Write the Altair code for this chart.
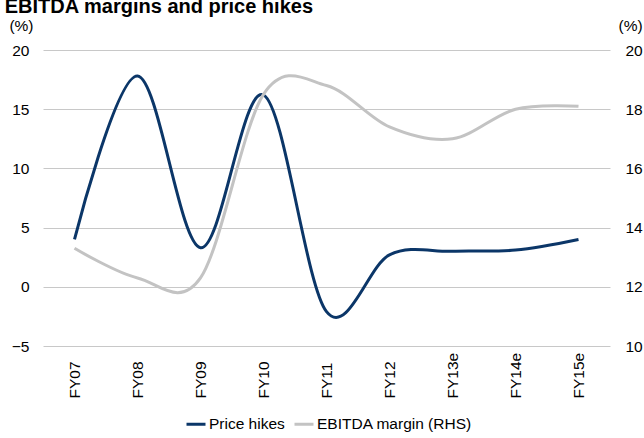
import altair as alt
import pandas as pd

years = ["FY07", "FY08", "FY09", "FY10", "FY11", "FY12", "FY13e", "FY14e", "FY15e"]
price_hikes = [4.0, 17.8, 3.3, 16.2, -2.1, 2.7, 3.0, 3.1, 4.0]
ebitda_margin = [13.3, 12.3, 12.3, 18.5, 18.8, 17.4, 17.0, 18.0, 18.1]
series_names = ["Price hikes", "EBITDA margin (RHS)"]
series_colors = ["#0b3668", "#c3c3c3"]
left_ticks = [-5, 0, 5, 10, 15, 20]
right_ticks = [10, 12, 14, 16, 18, 20]
title_text = "EBITDA margins and price hikes"

FONT = "Liberation Sans"

df = pd.DataFrame({
    "year": years * 2,
    "series": [series_names[0]] * len(years) + [series_names[1]] * len(years),
    "value": price_hikes + ebitda_margin,
})

color = alt.Color(
    "series:N",
    scale=alt.Scale(domain=series_names, range=series_colors),
    legend=alt.Legend(
        title=None, orient="none", legendX=142, legendY=363,
        direction="horizontal", symbolType="stroke", symbolSize=361,
        symbolStrokeWidth=3, labelFontSize=15.5, labelFont=FONT,
        labelColor="#000000", columnPadding=3, symbolOffset=0,
        labelOffset=2,
    ),
)

x = alt.X(
    "year:N", sort=years, title=None,
    scale=alt.Scale(type="point", padding=0.5),
    axis=alt.Axis(labelAngle=270, labelAlign="left", labelBaseline="middle",
                  labelPadding=52, ticks=False, domain=False, grid=False,
                  labelFontSize=15.5, labelFont=FONT, labelColor="#000000"),
)

base = alt.Chart(df)

gray = base.transform_filter(alt.datum.series == series_names[1]).mark_line(
    interpolate="cardinal", strokeWidth=3
).encode(
    x=x,
    y=alt.Y("value:Q", scale=alt.Scale(domain=[10, 20], nice=False, zero=False),
            axis=alt.Axis(orient="right", values=right_ticks, grid=False,
                          ticks=False, domain=False, labelPadding=15,
                          labelFontSize=15.5, labelFont=FONT, labelColor="#000000",
                          title="(%)", titleAngle=0, titleX=8, titleY=-25,
                          titleAlign="left", titleBaseline="middle",
                          titleFontWeight="normal", titleFontSize=15.5,
                          titleFont=FONT, titleColor="#000000")),
    color=color,
)

blue = base.transform_filter(alt.datum.series == series_names[0]).mark_line(
    interpolate="cardinal", strokeWidth=3
).encode(
    x=x,
    y=alt.Y("value:Q", scale=alt.Scale(domain=[-5, 20], nice=False, zero=False),
            axis=alt.Axis(orient="left", values=left_ticks, grid=True,
                          gridColor="#c8c8c8", gridWidth=1,
                          ticks=False, domain=False, labelPadding=14,
                          labelFontSize=15.5, labelFont=FONT, labelColor="#000000",
                          title="(%)", titleAngle=0, titleX=-10, titleY=-25,
                          titleAlign="right", titleBaseline="middle",
                          titleFontWeight="normal", titleFontSize=15.5,
                          titleFont=FONT, titleColor="#000000")),
    color=color,
)

title = alt.Chart(pd.DataFrame({"t": [title_text]})).mark_text(
    align="right", baseline="alphabetic", font=FONT, fontSize=20,
    fontWeight="bold", color="#000000"
).encode(text="t:N", x=alt.value(270), y=alt.value(-37))

chart = alt.layer(blue, gray, title).resolve_scale(y="independent").properties(
    width=567, height=296,
    autosize=alt.AutoSizeParams(type="none"),
    padding={"left": 43, "top": 50, "right": 34, "bottom": 92},
    background="#ffffff",
).configure_view(stroke=None)

chart.save("out.html", embed_options={"renderer": "svg", "actions": False})
